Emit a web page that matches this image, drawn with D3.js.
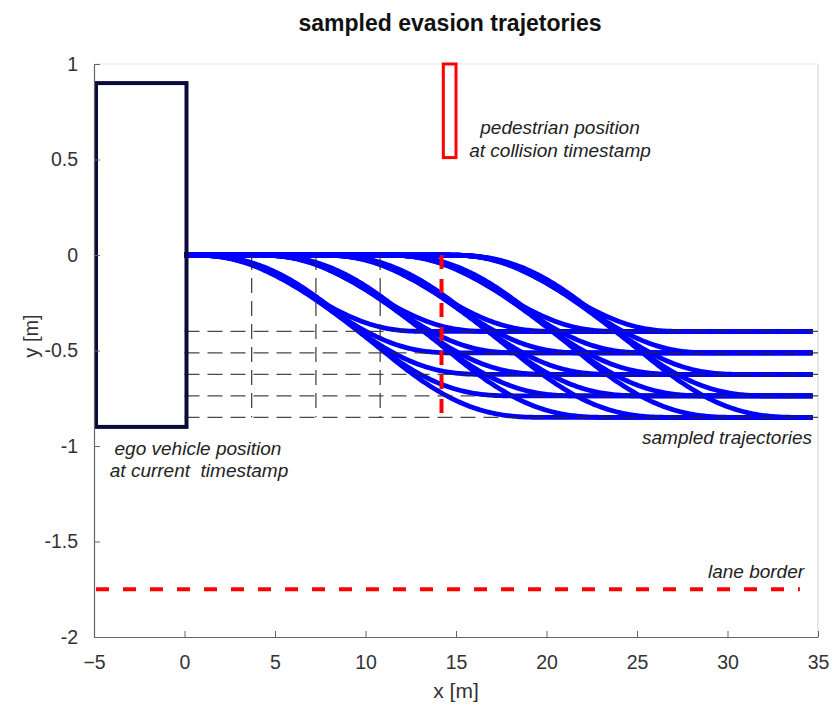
<!DOCTYPE html>
<html>
<head>
<meta charset="utf-8">
<script src="https://cdn.jsdelivr.net/npm/d3@7"></script>
<style>
  body { margin: 0; background: #fff; }
  text { font-family: "Liberation Sans", Arial, sans-serif; }
</style>
</head>
<body>
<div id="chart"></div>
<script>
// maneuver start positions along x [m]
const startX = [0, 3.6, 7.15, 10.7, 14.2];
// target lateral offsets [m] and maneuver length per offset [m]
const offsets = [-0.4, -0.5125, -0.625, -0.7375, -0.85];
const lengths = [13.5, 15.2, 16.8, 18.4, 20];
const trajEndX = 34.7;
const collisionX = 14.2;

const egoBox = {x0: -5, x1: 0, y0: -0.9, y1: 0.9};
const pedBox = {x0: 14.3, x1: 15.0, y0: 0.51, y1: 1.0};
const laneBorderY = -1.75;
const laneBorderX = [-5, 34];

const xTicks = [-5, 0, 5, 10, 15, 20, 25, 30, 35];
const yTicks = [1, 0.5, 0, -0.5, -1, -1.5, -2];

const width = 833;
const height = 707;

const x = d3.scaleLinear().domain([-5, 35]).range([94, 818]);
const y = d3.scaleLinear().domain([-2, 1]).range([637, 64]);

const svg = d3.select("#chart")
    .append("svg")
    .attr("width", width)
    .attr("height", height);

// frame
svg.append("line")
    .attr("x1", x(-5)).attr("x2", x(35)).attr("y1", y(1)).attr("y2", y(1))
    .attr("stroke", "#e6e6e6");
svg.append("line")
    .attr("x1", x(35)).attr("x2", x(35)).attr("y1", y(1)).attr("y2", y(-2))
    .attr("stroke", "#d0d0d0");

// smooth quintic lane change
function smooth(s) {
  s = Math.max(0, Math.min(1, s));
  return s * s * s * (10 - 15 * s + 6 * s * s);
}

const trajectories = [];
startX.forEach(x0 => {
  offsets.forEach((d, j) => {
    trajectories.push({x0: x0, d: d, len: lengths[j]});
  });
});

const line = d3.line().x(p => x(p[0])).y(p => y(p[1]));

svg.append("g")
  .selectAll("path")
  .data(trajectories)
  .enter()
  .append("path")
    .attr("d", t => line(d3.range(0, trajEndX + 0.001, 0.1)
        .map(px => [px, t.d * smooth((px - t.x0) / t.len)])))
    .attr("fill", "none")
    .attr("stroke", "#0000ff")
    .attr("stroke-width", 4.8);

// sample grid
const grid = svg.append("g")
    .attr("stroke", "#2a2a2a")
    .attr("stroke-width", 1.3)
    .attr("stroke-dasharray", "15,8")
    .attr("opacity", 0.85);

grid.selectAll(".h")
  .data(offsets)
  .enter()
  .append("line")
    .attr("x1", x(0)).attr("x2", x(35))
    .attr("y1", d => y(d)).attr("y2", d => y(d));

grid.selectAll(".v")
  .data(startX.slice(0, 4))
  .enter()
  .append("line")
    .attr("x1", d => x(d) + 2).attr("x2", d => x(d) + 2)
    .attr("y1", y(0)).attr("y2", y(d3.min(offsets)));

// collision position
svg.append("line")
    .attr("x1", x(collisionX)).attr("x2", x(collisionX))
    .attr("y1", y(0)).attr("y2", y(d3.min(offsets)))
    .attr("stroke", "#ff0000")
    .attr("stroke-width", 4)
    .attr("stroke-dasharray", "14,10");

// lane border
svg.append("line")
    .attr("x1", x(laneBorderX[0]) + 2).attr("x2", x(laneBorderX[1]))
    .attr("y1", y(laneBorderY)).attr("y2", y(laneBorderY))
    .attr("stroke", "#ff0000")
    .attr("stroke-width", 4)
    .attr("stroke-dasharray", "13,14");

// ego vehicle
svg.append("rect")
    .attr("x", x(egoBox.x0) + 2)
    .attr("y", y(egoBox.y1))
    .attr("width", x(egoBox.x1) - x(egoBox.x0))
    .attr("height", y(egoBox.y0) - y(egoBox.y1))
    .attr("fill", "none")
    .attr("stroke", "#0b0b3b")
    .attr("stroke-width", 4);

// pedestrian
svg.append("rect")
    .attr("x", x(pedBox.x0))
    .attr("y", y(pedBox.y1))
    .attr("width", x(pedBox.x1) - x(pedBox.x0))
    .attr("height", y(pedBox.y0) - y(pedBox.y1))
    .attr("fill", "none")
    .attr("stroke", "#ff0000")
    .attr("stroke-width", 3);

// axes
const xAxis = svg.append("g")
    .attr("transform", `translate(0,${y(-2)})`)
    .call(d3.axisBottom(x).tickValues(xTicks).tickSizeInner(-6).tickSizeOuter(0).tickPadding(18));
const yAxis = svg.append("g")
    .attr("transform", `translate(${x(-5)},0)`)
    .call(d3.axisLeft(y).tickValues(yTicks).tickFormat(d => d).tickSizeInner(-6).tickSizeOuter(0).tickPadding(16));

[xAxis, yAxis].forEach(a => {
  a.select(".domain").attr("stroke", "#666").attr("stroke-width", 1.2);
  a.selectAll(".tick line").attr("stroke", "#666");
  a.selectAll(".tick text")
    .attr("fill", "#333")
    .style("font-size", "19.5px")
    .style("font-family", "'Liberation Sans', Arial, sans-serif");
});

// titles
svg.append("text")
    .attr("x", 450).attr("y", 31)
    .attr("text-anchor", "middle")
    .attr("font-weight", "bold")
    .attr("font-size", 23)
    .attr("fill", "#111")
    .text("sampled evasion trajetories");

svg.append("text")
    .attr("x", 456).attr("y", 698)
    .attr("text-anchor", "middle")
    .attr("font-size", 21)
    .attr("fill", "#333")
    .text("x [m]");

svg.append("text")
    .attr("transform", "translate(38,336) rotate(-90)")
    .attr("text-anchor", "middle")
    .attr("font-size", 20)
    .attr("fill", "#333")
    .text("y [m]");

// annotations
const notes = [
  {x: 560, y: 134, t: "pedestrian position"},
  {x: 560, y: 157, t: "at collision timestamp"},
  {x: 198, y: 455, t: "ego vehicle position"},
  {x: 199, y: 477, t: "at current\u00a0 timestamp"},
  {x: 727, y: 444, t: "sampled trajectories"},
  {x: 756, y: 578, t: "lane border"}
];

svg.append("g")
  .selectAll("text")
  .data(notes)
  .enter()
  .append("text")
    .attr("x", d => d.x)
    .attr("y", d => d.y)
    .attr("text-anchor", "middle")
    .attr("font-style", "italic")
    .attr("font-size", 19)
    .attr("fill", "#222")
    .text(d => d.t);
</script>
</body>
</html>
